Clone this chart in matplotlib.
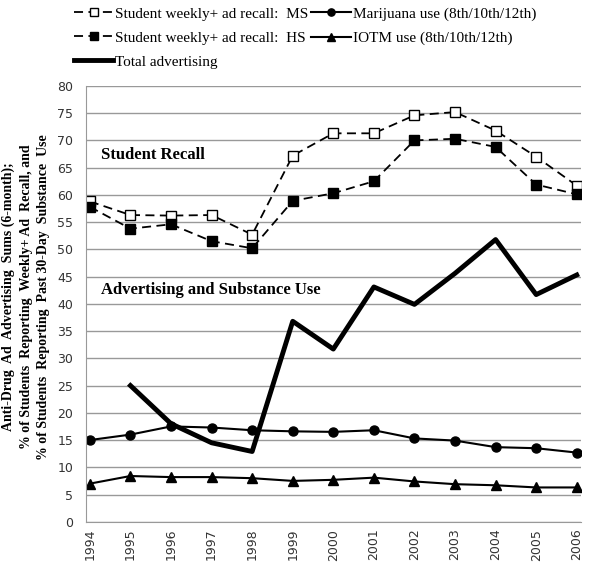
import matplotlib.pyplot as plt

# data
years = list(range(1994, 2007))
recall_ms = [58.8, 56.3, 56.2, 56.3, 52.7, 67.2, 71.3, 71.3, 74.6, 75.2, 71.8, 67.0, 61.7]
recall_hs = [57.8, 53.8, 54.6, 51.5, 50.2, 58.9, 60.3, 62.5, 70.0, 70.3, 68.8, 61.9, 60.1]
ad_years = list(range(1995, 2007))
total_ads = [25.0, 18.0, 14.5, 12.9, 36.8, 31.7, 43.1, 39.9, 45.6, 51.8, 41.7, 45.3]
marijuana = [15.0, 16.0, 17.5, 17.3, 16.8, 16.6, 16.5, 16.8, 15.3, 14.9, 13.7, 13.5, 12.7]
iotm = [7.0, 8.4, 8.2, 8.2, 8.0, 7.5, 7.7, 8.1, 7.4, 6.9, 6.7, 6.3, 6.3]

serif = "Liberation Serif"

fig = plt.figure(figsize=(6, 5.69), dpi=100)
ax = fig.add_axes([0.143, 0.083, 0.825, 0.766])

l_ms, = ax.plot(years, recall_ms, "k--", marker="s", mfc="white", mec="black",
                ms=7, lw=1.3, dashes=(5, 3))
l_hs, = ax.plot(years, recall_hs, "k--", marker="s", mfc="black", ms=7,
                lw=1.3, dashes=(5, 3))
l_ad, = ax.plot(ad_years, total_ads, color="black", lw=3.5)
l_mj, = ax.plot(years, marijuana, color="black", marker="o", ms=6.5, lw=1.5)
l_io, = ax.plot(years, iotm, color="black", marker="^", ms=6.5, lw=1.5)

ax.set_xlim(1993.9, 2006.1)
ax.set_ylim(0, 80)
ax.set_yticks(range(0, 81, 5))
ax.set_xticks(years)
ax.set_xticklabels([str(y) for y in years], rotation=90, fontsize=9)
ax.tick_params(axis="y", labelsize=9, length=0, pad=9, colors="#333333")
ax.tick_params(axis="x", length=0, pad=5, colors="#333333")
ax.grid(axis="y", color="#999999", lw=1)
ax.set_axisbelow(True)
for s in ["top", "right"]:
    ax.spines[s].set_visible(False)
ax.spines["left"].set_color("#999999")
ax.spines["bottom"].set_color("#999999")

ax.text(1994.27, 67.3, "Student Recall", fontfamily=serif, fontweight="bold",
        fontsize=12, va="center")
ax.text(1994.27, 42.6, "Advertising and Substance Use", fontfamily=serif,
        fontweight="bold", fontsize=12, va="center")

fig.text(26 / 600, 1 - 297 / 569,
         "Anti-Drug  Ad  Advertising  Sums (6-month);\n"
         "% of Students  Reporting  Weekly+ Ad  Recall, and\n"
         "% of Students  Reporting  Past 30-Day  Substance  Use",
         family=serif, fontweight="bold", fontsize=10, rotation=90,
         ha="center", va="center", multialignment="center", linespacing=1.45)

fig.legend([l_ms, l_hs, l_ad, l_mj, l_io],
           ["Student weekly+ ad recall:  MS", "Student weekly+ ad recall:  HS",
            "Total advertising", "Marijuana use (8th/10th/12th)",
            "IOTM use (8th/10th/12th)"],
           ncol=2, loc="upper left", bbox_to_anchor=(0.1, 1.012), frameon=False,
           prop={"family": serif, "size": 11}, handlelength=2.6, markerscale=0.8,
           handletextpad=0.1, columnspacing=0.2, labelspacing=0.68)

plt.savefig("out.png", dpi=100)
